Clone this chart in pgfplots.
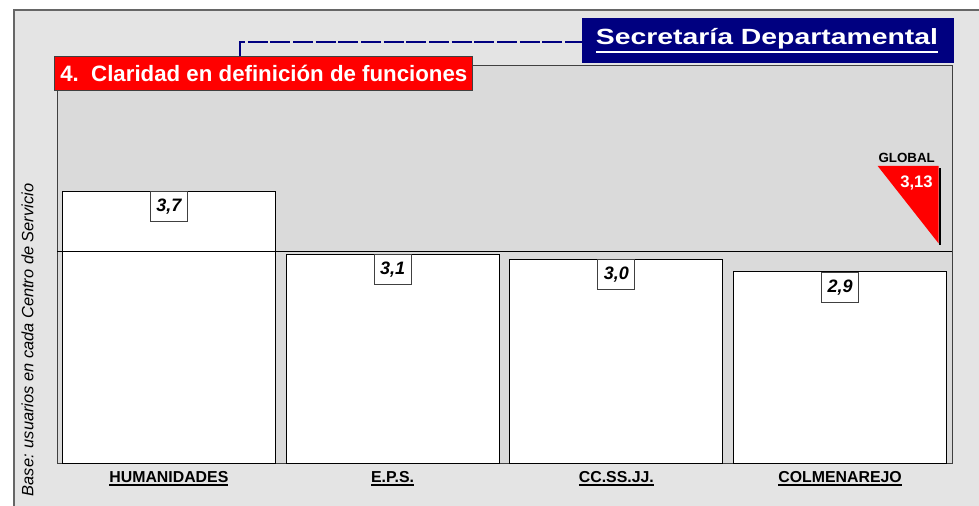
\documentclass[border=0pt]{standalone}
\usepackage{fontspec}
\setmainfont{Liberation Sans}
\usepackage{pgfplots}
\pgfplotsset{compat=1.18}

\definecolor{framebg}{HTML}{E4E4E4}
\definecolor{plotbg}{HTML}{DADADA}
\definecolor{navybox}{HTML}{000080}
\definecolor{redbox}{HTML}{FF0000}
\definecolor{edge}{HTML}{404040}

% underline: depth below baseline, thickness, text
\newcommand{\myul}[3]{\setbox0\hbox{#3}\rlap{\rule[-#1]{\wd0}{#2}}\box0}

\begin{document}
\begin{tikzpicture}
% page and outer frame (1 px = 0.75pt, y downwards)
\begin{scope}[x=0.75pt,y=-0.75pt]
  \fill[white] (0,0) rectangle (979,506);
  \fill[framebg] (14,10) rectangle (979,506);
  \draw[gray!80!black, line width=1.2pt] (14,506) -- (14,10) -- (979,10);
\end{scope}

\begin{axis}[
    at={(42.75pt,-347.25pt)}, anchor=south west,
    scale only axis,
    width=671.25pt, height=298.5pt,
    xmin=-0.5, xmax=3.5,
    ymin=1, ymax=5,
    axis background/.style={fill=plotbg},
    axis line style={draw=edge, line width=0.75pt},
    ytick=\empty,
    xtick={0,1,2,3},
    xticklabels={\myul{2.4pt}{1.4pt}{HUMANIDADES}, \myul{2.4pt}{1.4pt}{E.P.S.},
                 \myul{2.4pt}{1.4pt}{CC.SS.JJ.}, \myul{2.4pt}{1.4pt}{COLMENAREJO}},
    major tick length=0pt,
    xticklabel style={anchor=base, yshift=-14.8pt, text=black,
                      font=\bfseries\fontsize{11.9}{13}\selectfont},
]
\addplot[ybar, bar width=0.952, fill=white, draw=black, line width=0.75pt,
    nodes near coords, point meta=explicit symbolic,
    nodes near coords align={below},
    every node near coord/.append style={draw=edge, fill=white, line width=0.6pt,
        minimum width=27.75pt, minimum height=22.5pt, inner sep=0pt, text=black,
        font=\bfseries\itshape\fontsize{13.5}{14}\selectfont}]
    coordinates {(0,3.73) [3,7] (1,3.10) [3,1] (2,3.05) [3,0] (3,2.92) [2,9]};
% global mean
\addplot[black, line width=0.75pt, forget plot] coordinates {(-0.5,3.13) (3.5,3.13)};
\end{axis}

\begin{scope}[x=0.75pt,y=-0.75pt]
  % dashed connector
  \draw[navybox, line width=1.4pt, dash pattern=on 15pt off 2pt] (240,57) -- (240,42) -- (582,42);
  % red subtitle box
  \filldraw[fill=redbox, draw=edge, line width=0.75pt] (54.3,56.7) rectangle (472.7,90.3);
  \node[anchor=base west, inner sep=0pt, text=white, font=\bfseries\fontsize{16.7}{18}\selectfont]
    at (60,81.7) {4.\ \ Claridad en definición de funciones};
  % navy title box
  \fill[navybox] (581.7,17.7) rectangle (954,62.7);
  \node[anchor=base, inner sep=0pt, text=white, font=\bfseries\fontsize{16.5}{18}\selectfont]
    at (767,45) {\scalebox{1.29}[1]{\myul{6.3pt}{1.6pt}{Secretaría Departamental}}};
  % global marker
  \fill[black] (938.5,168) rectangle (941,245.5);
  \fill[redbox] (877.7,166) -- (938.5,166) -- (938.5,243.3) -- cycle;
  \node[anchor=base, inner sep=0pt, font=\bfseries\fontsize{10}{12}\selectfont]
    at (906.7,162.3) {GLOBAL};
  \node[anchor=base east, inner sep=0pt, text=white, font=\bfseries\fontsize{12.5}{14}\selectfont]
    at (933,187.3) {3,13};
  % side note
  \node[rotate=90, anchor=base, inner sep=0pt, font=\itshape\fontsize{12.3}{14}\selectfont]
    at (33.3,340) {Base: usuarios en cada Centro de Servicio};
\end{scope}

\pgfresetboundingbox
\path[x=0.75pt,y=-0.75pt] (0,0) rectangle (979,506);
\end{tikzpicture}
\end{document}
